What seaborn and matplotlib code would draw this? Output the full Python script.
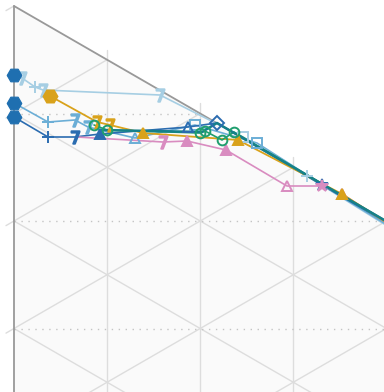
import numpy as np
import seaborn as sns
import matplotlib.pyplot as plt
from matplotlib.patches import Polygon

sns.set_style("white")

# series (x, y in plot units, marker code per point)
lb_x = [14, 22, 35, 43, 160, 243, 307, 384]
lb_y = [75, 78, 87, 90, 95, 137, 176, 224]
lb_m = ['', '7', '+', '7', '7', 'so', '+', '']

mb_x = [14, 48, 75, 88, 135, 195, 257, 340, 384]
mb_y = [103, 122, 120, 127, 138, 125, 143, 196, 223]
mb_m = ['', '+', '7', '7', '^o', 'so', 'so', '', '']

db_x = [14, 48, 75, 100, 188, 217, 322, 384]
db_y = [117, 137, 137, 134, 127, 123, 185, 221]
db_m = ['', '+', '7', '^', '^o', 'Do', '*', '']

or_x = [50, 97, 110, 143, 238, 342, 384]
or_y = [96, 122, 125, 133, 140, 194, 221]
or_m = ['H', '7', '7', '^', '^', '^', '']

gr_x = [94, 107, 200, 205, 222, 234, 384]
gr_y = [125, 130, 133, 131, 140, 132, 220]
gr_m = ['o', 'o', 'o', 'o', 'o', 'o', '']

tl_x = [100, 202, 217, 384]
tl_y = [130, 132, 123, 220]
tl_m = ['', '', '', '']

pk_x = [77, 163, 187, 226, 287, 322, 342, 384]
pk_y = [137, 142, 141, 150, 186, 186, 194, 221]
pk_m = ['', '7', '^', '^', '^o', '*', '^o', '']

start_x = [14, 14, 14]
start_y = [75, 103, 117]

series = [
    (lb_x, lb_y, lb_m, '#a6cee3', 1.2),
    (mb_x, mb_y, mb_m, '#6baed6', 1.2),
    (db_x, db_y, db_m, '#2b6cb0', 1.2),
    (pk_x, pk_y, pk_m, '#d98cc0', 1.2),
    (or_x, or_y, or_m, '#d9a21b', 1.3),
    (gr_x, gr_y, gr_m, '#1f9e6e', 1.2),
    (tl_x, tl_y, tl_m, '#16808a', 1.8),
]

fig = plt.figure(figsize=(3.84, 3.92), dpi=100)
ax = fig.add_axes([0, 0, 1, 1])
ax.set_xlim(0, 384)
ax.set_ylim(392, 0)
ax.axis('off')

# ternary-style lattice below the upper edge
x0, y0 = 14, 6
dx = 93
side = 107.5
k = np.tan(np.radians(30))
xr = 500
ax.add_patch(Polygon([(x0, y0), (x0, xr), (xr, xr), (xr, y0 + k * (xr - x0))],
                     closed=True, facecolor='#fafafa', edgecolor='none', zorder=0))

grid_kw = dict(color='#dddddd', lw=1.0, zorder=1)
for i in range(0, 10):
    # parallel to upper edge
    if i > 0:
        ax.plot([x0, xr], [y0 + side * i, y0 + side * i + k * (xr - x0)], **grid_kw)
    # rising lines, ending at the upper edge, with a tick left of the axis
    xe = x0 + side * i / (2 * k)
    ax.plot([x0 - 8, xe], [y0 + side * i + 8 * k, y0 + side * i - k * (xe - x0)], **grid_kw)
for i in range(1, 5):
    xv = x0 + dx * i
    yt = y0 + k * (xv - x0)
    ax.plot([xv, xv], [yt - 10, 400], **grid_kw)
for i in range(1, 4):
    yh = y0 + side * i
    ax.plot([x0, x0 + (yh - y0) / k], [yh, yh], color='#c4c4c4', lw=1.0,
            ls=(0, (1, 4)), zorder=1)

ax.plot([x0, x0], [y0, 400], color='#999999', lw=1.3, zorder=2)
ax.plot([x0, xr], [y0, y0 + k * (xr - x0)], color='#999999', lw=1.3, zorder=2)

marker_map = {
    '7': (r'$7$', 9, True),
    '+': ('+', 8, True),
    'so': ('s', 7, False),
    '^o': ('^', 7, False),
    '^': ('^', 7, True),
    'Do': ('D', 7, False),
    'o': ('o', 7, False),
    'H': ('H', 10, True),
    '*': ('*', 9, True),
}

for sx, sy, sm, col, lw in series:
    sns.lineplot(x=sx, y=sy, sort=False, estimator=None, color=col, lw=lw, ax=ax, zorder=3)
    for px, py, m in zip(sx, sy, sm):
        if not m:
            continue
        mk, ms, filled = marker_map[m]
        ax.plot([px], [py], marker=mk, ms=ms, color=col, ls='none',
                mfc=col if filled else 'none', mew=1.4, zorder=4)

sns.scatterplot(x=start_x, y=start_y, marker='H', s=110, color='#1f6fb0',
                edgecolor='#1f6fb0', ax=ax, zorder=5)

ax.set_xlim(0, 384)
ax.set_ylim(392, 0)
fig.savefig('out.png', dpi=100)
